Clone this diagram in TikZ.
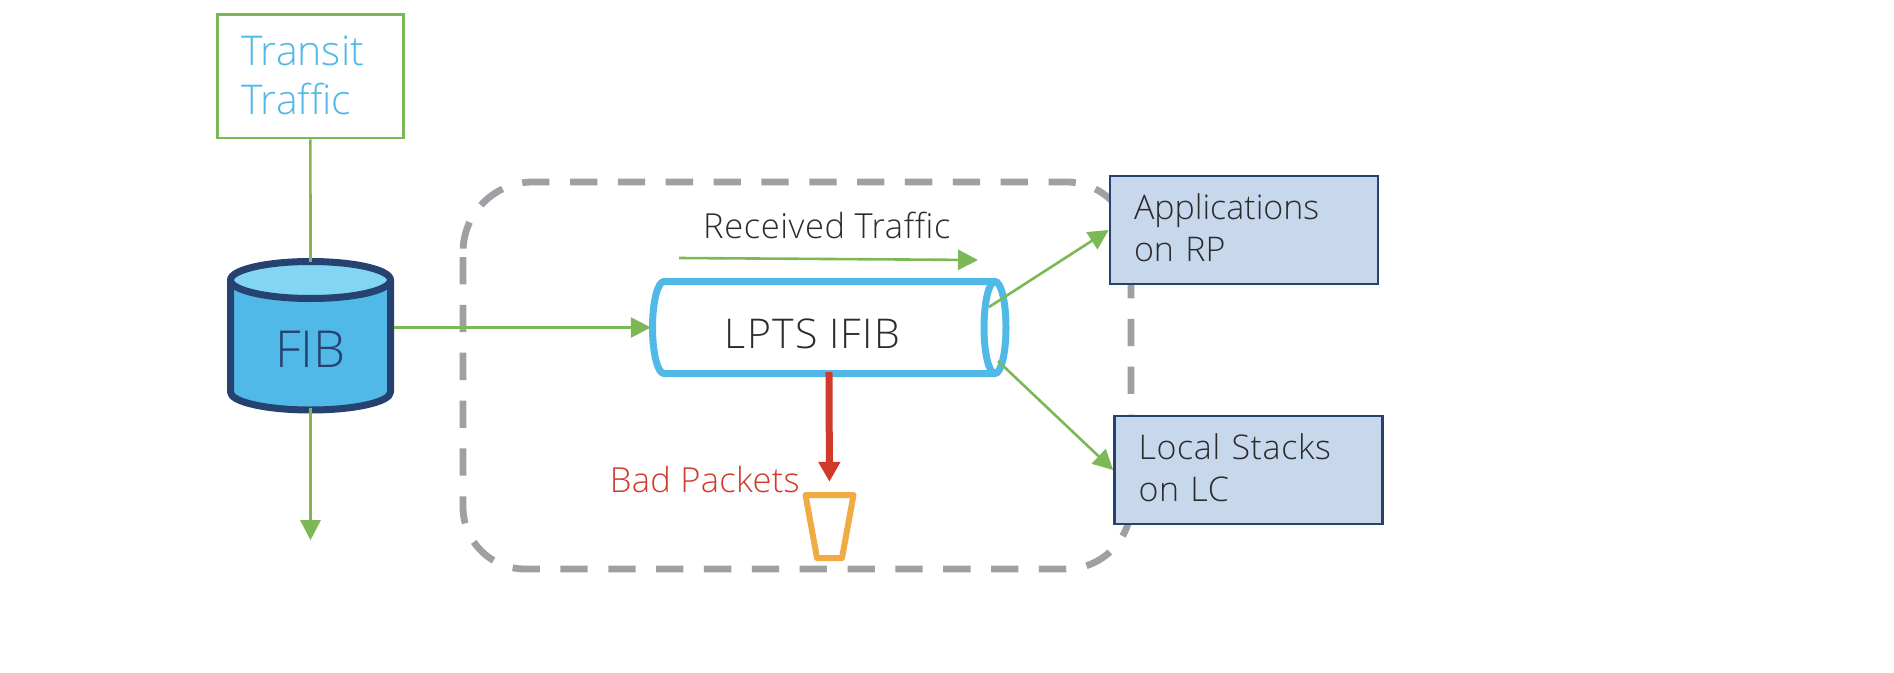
\documentclass[tikz,border=0pt]{standalone}
\usepackage{fontspec}
\setmainfont[Ligatures=CommonOff]{Open Sans Light}
\usetikzlibrary{arrows.meta,calc}
\definecolor{grn}{HTML}{7CB956}
\definecolor{cyanb}{HTML}{50B9E7}
\definecolor{cyant}{HTML}{82D5F3}
\definecolor{navy}{HTML}{254270}
\definecolor{pale}{HTML}{C7D8ED}
\definecolor{dgray}{HTML}{A09FA4}
\definecolor{redc}{HTML}{D13A2A}
\definecolor{orng}{HTML}{F0AB42}
\definecolor{ink}{HTML}{2B2B2B}
\tikzset{
  greenline/.style={draw=grn,line width=2.6pt},
  greenarrow/.style={greenline,-{Triangle[length=20pt,width=20pt]}},
  bluebox/.style={draw=navy,fill=pale,line width=2.7pt,rectangle,minimum width=268pt,minimum height=108pt,inner xsep=24pt,inner ysep=0pt,text width=220pt,text depth=46pt,align=left,text=ink,font=\fontsize{34}{42}\selectfont},
  label33/.style={inner sep=0pt,font=\fontsize{34.5}{40}\selectfont}
}
\begin{document}
\begin{tikzpicture}[x=1pt,y=-1pt]
\useasboundingbox (0,0) rectangle (1894,672);
\fill[white] (0,0) rectangle (1894,672);
% dashed region
\draw[dgray,line width=6.8pt,dash pattern=on 27.3pt off 20.55pt]
  (463,257) -- (463,507) arc[start angle=180,end angle=90,x radius=62,y radius=62]
  -- (1066,569) arc[start angle=90,end angle=0,x radius=65,y radius=65]
  -- (1131,247) arc[start angle=0,end angle=-90,x radius=65,y radius=65]
  -- (533,182) arc[start angle=-90,end angle=-180,x radius=70,y radius=70];
% transit box
\node[draw=grn,fill=white,line width=2.7pt,rectangle,minimum width=186pt,minimum height=123.6pt,inner xsep=24pt,inner ysep=0pt,text width=138pt,text depth=51pt,align=left,text=cyanb,font=\fontsize{41}{49}\selectfont] (transit) at (310.4,76.2) {Transit\\Traffic};
% FIB
\fill[cyanb] (230.5,280) -- (230.5,392) arc[start angle=180,end angle=360,x radius=80,y radius=-18] -- (390.5,280) -- cycle;
\draw[navy,line width=7pt,line join=round] (230.5,280) -- (230.5,392) arc[start angle=180,end angle=360,x radius=80,y radius=-18] -- (390.5,280);
\draw[navy,fill=cyant,line width=7pt] (310.5,280) ellipse[x radius=80,y radius=18.5];
\node[minimum width=167pt,minimum height=153pt,inner sep=0pt,text=navy,font=\fontsize{51}{51}\selectfont] (fib) at (310.5,335.5) {\raisebox{-32.2pt}[0pt][0pt]{FIB}};
% LPTS IFIB
\draw[cyanb,line width=7pt,line join=round] (995,281.5) -- (664,281.5) arc[start angle=-90,end angle=-270,x radius=11.5,y radius=46] -- (995,373.5);
\draw[cyanb,line width=7pt] (995,327.5) ellipse[x radius=11,y radius=46];
\node[minimum width=360pt,minimum height=99pt,inner sep=0pt,text=ink,font=\fontsize{41}{41}\selectfont\addfontfeature{LetterSpace=3}] (lpts) at (829,327.5) {\raisebox{-21pt}[0pt][0pt]{\makebox[0pt]{\kern-33pt LPTS IFIB}}};
% bucket
\draw[orng,line width=6pt,line join=round] (805.5,495) -- (853.5,495) -- (842,558) -- (817,558) -- cycle;
\node[minimum width=55pt,minimum height=69pt,inner sep=0pt] (bucket) at (829.5,526.5) {};
% boxes
\node[bluebox] (rp) at (1244,230) {Applications\\on RP};
\node[bluebox] (lc) at (1248.5,470) {\addfontfeature{LetterSpace=1.8}Local Stacks\\on LC};
% labels
\node[label33,anchor=base west,text=ink] (recv) at (703,238) {\addfontfeature{LetterSpace=1.7}Received Traffic};
\node[label33,anchor=base east,text=redc] (bad) at (800,492) {\addfontfeature{LetterSpace=1}Bad Packets};
% connectors
\coordinate (rta) at (679,258);
\coordinate (rtb) at (978,260);
\coordinate (lptsa) at (989,307);
\coordinate (lptsb) at (998,361);
\draw[greenline,shorten >=-3pt] (transit.south) -- (fib.north);
\draw[greenarrow,shorten <=-4pt] (fib.south) -- ++(0,128) coordinate (fibexit);
\draw[greenarrow,shorten >=-2pt] (fib.east |- lpts.west) -- (lpts.west);
\draw[greenarrow] (rta) -- (rtb);
\draw[greenarrow] (lptsa) -- (rp.west);
\draw[greenarrow] (lptsb) -- (lc.west);
\draw[redc,line width=7pt,-{Triangle[length=20pt,width=21pt]},shorten <=-5pt,shorten >=10pt] (lpts.south) -- (bucket.north);
\end{tikzpicture}
\end{document}
